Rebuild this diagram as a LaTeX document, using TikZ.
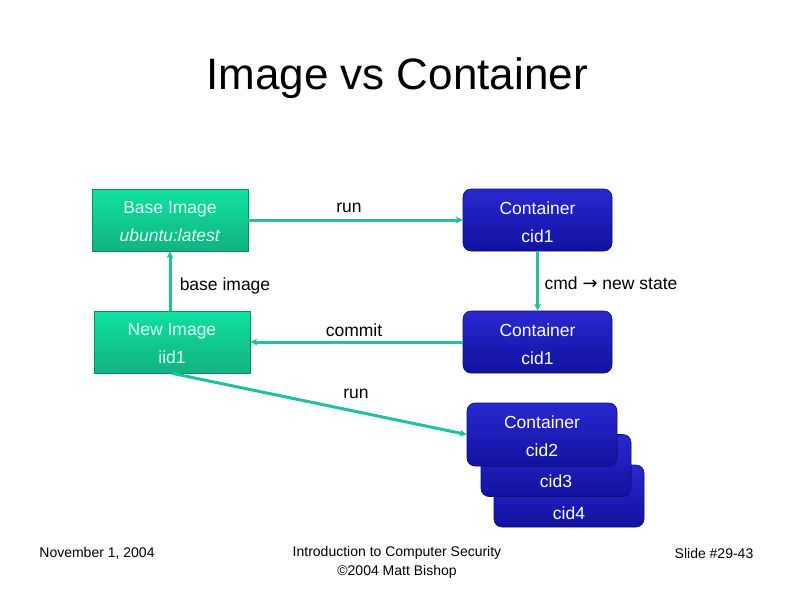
\documentclass[tikz,border=0pt]{standalone}
\usepackage{fontspec}
\setmainfont{Liberation Sans}
\newfontfamily\arrowfont{DejaVu Sans}
\usetikzlibrary{arrows.meta}
\definecolor{conn}{RGB}{32,192,160}
\definecolor{gtop}{RGB}{16,226,160}
\definecolor{gbot}{RGB}{18,178,130}
\definecolor{btop}{RGB}{40,40,208}
\definecolor{bbot}{RGB}{18,18,160}
\definecolor{gtext}{RGB}{220,255,240}
\tikzset{
  gbox/.style={draw=gbot!80!black, line width=0.6pt, top color=gtop, bottom color=gbot,
    minimum width=156pt, minimum height=62pt, inner sep=0pt},
  bbox/.style={draw=bbot!70!black, line width=0.6pt, top color=btop, bottom color=bbot,
    rounded corners=8pt, minimum width=149pt, minimum height=62pt, inner sep=0pt},
  gtxt/.style={text=gtext, font=\fontsize{17.5}{28}\selectfont, align=center},
  btxt/.style={text=white, font=\fontsize{17.5}{28}\selectfont, align=center},
  lbl/.style={text=black, font=\fontsize{17.5}{21}\selectfont, inner sep=0pt},
  conline/.style={draw=conn, line width=3pt, -{Stealth[length=7pt,width=7pt]}},
  foot/.style={font=\fontsize{14}{19}\selectfont, align=center, inner sep=0pt}
}
\begin{document}
\begin{tikzpicture}[x=1pt,y=-1pt]
\useasboundingbox (0,0) rectangle (794,595);
\fill[white] (0,0) rectangle (794,595);
% title
\node[font=\fontsize{44}{50}\selectfont, inner sep=0pt] (title) at (397,78) {Image vs Container};
% boxes
\node[gbox] (base) at (170,220) {};
\node[gtxt] (basetxt) at (170,222) {Base Image\\\textit{ubuntu:latest}};
\node[bbox] (c1a) at (537.5,220) {};
\node[btxt] (c1atxt) at (537.5,222) {Container\\cid1};
\node[gbox] (new) at (172,342) {};
\node[gtxt] (newtxt) at (172,344) {New Image\\iid1};
\node[bbox] (c1b) at (537.5,342) {};
\node[btxt] (c1btxt) at (537.5,344) {Container\\cid1};
% stacked containers
\node[bbox, minimum width=150pt, minimum height=62pt] (c4) at (569,496) {};
\node[bbox, minimum width=150pt, minimum height=62pt] (c3) at (556,465.5) {};
\node[bbox, minimum width=150pt, minimum height=63pt] (c2) at (542,434.5) {};
\node[btxt] (c2txt) at (542,436) {Container\\cid2};
\node[btxt] (c3txt) at (556,481) {cid3};
\node[btxt] (c4txt) at (569,513) {cid4};
% connectors
\draw[conline] (base.east) -- (c1a.west);
\draw[conline] (c1a.south) -- (c1b.north);
\draw[conline] (c1b.west) -- (new.east);
\draw[conline] (new.north -| base.south) -- (base.south);
\draw[conline] (new.south) -- (c2.west);
% labels
\node[lbl] (lrun1) at (349,208) {run};
\node[lbl] (lcmd) at (611,283) {cmd {\arrowfont\fontsize{18}{20}\selectfont →} new state};
\node[lbl] (lbase) at (225,286) {base image};
\node[lbl] (lcommit) at (354,330) {commit};
\node[lbl] (lrun2) at (356,394) {run};
% footer
\node[foot] (fdate) at (97,553) {November 1, 2004};
\node[foot] (fmid) at (397,562) {Introduction to Computer Security\\©2004 Matt Bishop};
\node[foot] (fslide) at (714,553) {Slide \#29-43};
\end{tikzpicture}
\end{document}
